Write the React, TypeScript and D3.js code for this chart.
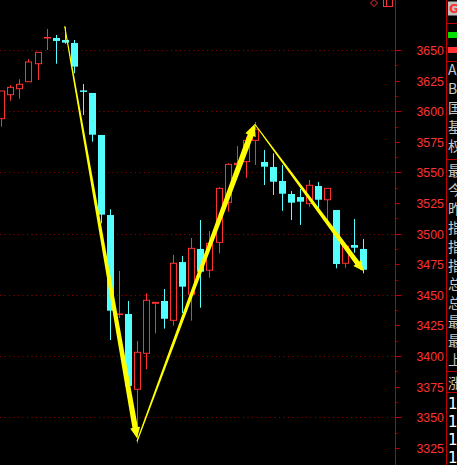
import React from 'react';
import * as d3 from 'd3';

const W = 457;
const H = 465;

// Daily candles (index level)
const opens = [
  3593.9, 3613.5, 3618.4, 3624.1, 3638.8, 3659.8, 3659.8, 3658.2, 3655.7, 3617.0,
  3614.9, 3580.6, 3515.2, 3433.8, 3434.4, 3372.9, 3402.3, 3442.3, 3445.0, 3429.2,
  3476.8, 3450.5, 3487.5, 3470.1, 3492.9, 3525.6, 3555.5, 3558.8, 3576.2, 3558.5,
  3554.4, 3543.0, 3532.4, 3529.9, 3524.5, 3538.9, 3527.7, 3519.3, 3475.8, 3490.7,
  3487.5,
];
const highs = [
  3616.5, 3621.2, 3626.1, 3642.4, 3648.1, 3667.2, 3662.3, 3668.8, 3658.2, 3622.2,
  3614.9, 3580.6, 3519.9, 3469.5, 3445.0, 3412.3, 3451.3, 3444.2, 3454.8, 3482.6,
  3481.7, 3496.4, 3511.1, 3502.2, 3537.8, 3557.4, 3571.6, 3579.0, 3591.2, 3568.3,
  3565.6, 3556.1, 3534.8, 3536.5, 3543.8, 3542.2, 3537.0, 3519.3, 3490.5, 3512.0,
  3495.6,
];
const lows = [
  3587.4, 3608.6, 3610.2, 3624.1, 3625.5, 3650.0, 3638.8, 3655.1, 3631.0, 3596.9,
  3575.1, 3508.4, 3413.1, 3431.1, 3374.0, 3328.8, 3389.2, 3418.6, 3422.4, 3424.8,
  3435.2, 3428.9, 3439.5, 3464.0, 3483.9, 3517.9, 3554.8, 3545.7, 3556.1, 3539.7,
  3531.6, 3518.7, 3511.1, 3507.1, 3522.0, 3517.9, 3510.6, 3471.7, 3472.2, 3484.4,
  3467.6,
];
const closes = [
  3616.5, 3619.5, 3622.0, 3640.2, 3648.1, 3660.2, 3657.4, 3656.0, 3636.4, 3616.2,
  3580.8, 3515.5, 3437.1, 3434.4, 3375.6, 3403.1, 3445.6, 3443.9, 3430.5, 3475.8,
  3456.7, 3488.0, 3468.9, 3492.1, 3537.0, 3556.6, 3557.5, 3576.2, 3585.2, 3554.7,
  3542.4, 3532.6, 3525.3, 3526.1, 3539.5, 3527.7, 3537.0, 3475.2, 3489.7, 3488.5,
  3470.5,
];

// Trend arrows: candle index + price at each end
const arrowFromIdx = [7, 15, 28];
const arrowFromPrice = [3669.5, 3330.5, 3589.6];
const arrowToIdx = [15, 28, 40];
const arrowToPrice = [3332.8, 3589.6, 3469.5];

const gridLevels = [3350, 3400, 3450, 3500, 3550, 3600, 3650];
const tickLabels = [3325, 3350, 3375, 3400, 3425, 3450, 3475, 3500, 3525, 3550, 3575, 3600, 3625, 3650];

// Side panel captions
const panelRows1 = ['A股成交', 'B股成交', '国债成交', '基金成交', '权证成交'];
const panelRows2 = ['最新指数', '今开指数', '昨收指数', '指数涨跌', '指数涨幅', '指数振幅', '总成交额', '总成交量', '最高指数', '最低指数', '上涨家数'];
const panelRows3 = ['涨跌家数'];
const panelRows4 = ['1', '1', '1', '1'];

const UP = '#ff3232';
const DOWN = '#54ffff';
const AXIS = '#c00000';
const GRID = '#a00000';
const ARROW = '#ffff00';

const x = d3.scaleLinear().domain([0, 40]).range([1.3, 363.3]);
const y = d3.scaleLinear().domain([3350, 3650]).range([417.3, 50]);

const AXIS_X = 395.5;
const PANEL_X = 446.5;

function arrowPath(x0: number, y0: number, x1: number, y1: number, w0: number, w1: number, headLen: number, headW: number) {
  const dx = x1 - x0;
  const dy = y1 - y0;
  const len = Math.hypot(dx, dy);
  const ux = dx / len;
  const uy = dy / len;
  const nx = -uy;
  const ny = ux;
  const bx = x1 - ux * headLen;
  const by = y1 - uy * headLen;
  const pts: [number, number][] = [
    [x0 + nx * w0 / 2, y0 + ny * w0 / 2],
    [bx + nx * w1 / 2, by + ny * w1 / 2],
    [bx + nx * headW / 2, by + ny * headW / 2],
    [x1, y1],
    [bx - nx * headW / 2, by - ny * headW / 2],
    [bx - nx * w1 / 2, by - ny * w1 / 2],
    [x0 - nx * w0 / 2, y0 - ny * w0 / 2],
  ];
  return d3.line()(pts) + 'Z';
}

const arrowStyle = [
  { w0: 1, w1: 5.5, head: 11, hw: 10 },
  { w0: 1.2, w1: 6, head: 12, hw: 11 },
  { w0: 1, w1: 5, head: 10, hw: 10 },
];

export default function App() {
  const bodyW = 7;
  const ticks = d3.range(3325, 3650.01, 12.5);

  return (
    <svg
      width={W}
      height={H}
      style={{ position: 'fixed', left: 0, top: 0, background: '#000', display: 'block' }}
    >
      <rect x={0} y={0} width={W} height={H} fill="#000" />

      {/* dotted grid */}
      {gridLevels.map((v) => (
        <line
          key={'g' + v}
          x1={0}
          x2={AXIS_X - 1}
          y1={Math.round(y(v)) + 0.5}
          y2={Math.round(y(v)) + 0.5}
          stroke={GRID}
          strokeWidth={1}
          strokeDasharray="1 3.5"
        />
      ))}

      {/* candles */}
      {opens.map((o, i) => {
        const c = closes[i];
        const up = c >= o;
        const cx = Math.round(x(i)) + 0.5;
        const top = y(Math.max(o, c));
        const bot = y(Math.min(o, c));
        const hy = y(highs[i]);
        const ly = y(lows[i]);
        const color = up ? UP : DOWN;
        const bh = Math.max(bot - top, 1);
        if (up) {
          return (
            <g key={'c' + i}>
              {hy < top && <line x1={cx} x2={cx} y1={hy} y2={top} stroke={color} strokeWidth={1} />}
              {ly > bot && <line x1={cx} x2={cx} y1={bot} y2={ly} stroke={color} strokeWidth={1} />}
              {bh < 2.5 ? (
                <rect x={cx - bodyW / 2} y={top - 0.5} width={bodyW} height={Math.max(bh, 1.5)} fill={color} />
              ) : (
                <rect x={cx - bodyW / 2 + 0.5} y={top} width={bodyW - 1} height={bh} fill="#000" stroke={color} strokeWidth={1} />
              )}
            </g>
          );
        }
        return (
          <g key={'c' + i}>
            <line x1={cx} x2={cx} y1={hy} y2={ly} stroke={color} strokeWidth={1} />
            <rect x={cx - bodyW / 2} y={top} width={bodyW} height={Math.max(bh, 1.5)} fill={color} />
          </g>
        );
      })}

      {/* trend arrows */}
      {arrowFromIdx.map((fi, k) => {
        const s = arrowStyle[k];
        return (
          <path
            key={'a' + k}
            d={arrowPath(x(fi), y(arrowFromPrice[k]), x(arrowToIdx[k]), y(arrowToPrice[k]), s.w0, s.w1, s.head, s.hw)}
            fill={ARROW}
          />
        );
      })}

      {/* price axis */}
      <line x1={AXIS_X} x2={AXIS_X} y1={0} y2={H} stroke={AXIS} strokeWidth={1} />
      {ticks.map((v) => {
        const major = v % 50 === 0;
        const mid = !major && v % 25 === 0;
        const len = major ? 6 : mid ? 4 : 2;
        const ty = Math.round(y(v)) + 0.5;
        return <line key={'t' + v} x1={AXIS_X} x2={AXIS_X + len} y1={ty} y2={ty} stroke={AXIS} strokeWidth={1} />;
      })}
      {tickLabels.map((v) => (
        <text
          key={'l' + v}
          x={416.5}
          y={y(v) + 5}
          fill={UP}
          fontFamily="'Liberation Sans', Arial, sans-serif"
          fontSize={12.3}
        >
          {v}
        </text>
      ))}

      {/* toolbar glyphs */}
      <path d="M374,-0.5 L377.5,3 L374,6.5 L370.5,3 Z" fill="none" stroke={UP} strokeWidth={1} />
      <rect x={383.5} y={-3.5} width={9} height={10} fill="none" stroke={UP} strokeWidth={1} />
      <line x1={386.5} x2={386.5} y1={-3} y2={6.5} stroke={UP} strokeWidth={1} />

      {/* side panel */}
      <line x1={PANEL_X} x2={PANEL_X} y1={0} y2={H} stroke={AXIS} strokeWidth={1} />
      {[23.5, 61.5, 159.5, 371.5, 392.5].map((sy) => (
        <line key={'s' + sy} x1={PANEL_X} x2={W} y1={sy} y2={sy} stroke={AXIS} strokeWidth={1} />
      ))}
      <rect x={448} y={1.5} width={10} height={14} fill="#c0c0c0" />
      <text x={449} y={13} fill={UP} fontFamily="'DejaVu Sans', sans-serif" fontSize={12} fontWeight="bold">G</text>
      <rect x={448} y={32} width={10} height={6} fill="#00e000" />
      <rect x={448} y={47} width={10} height={6} fill={UP} />
      {panelRows1.map((t, i) => (
        <text key={'p1' + i} x={448} y={70 + i * 19 + 5} fill="#c8c8c8" fontFamily="'Noto Sans CJK SC', sans-serif" fontSize={14}>{t}</text>
      ))}
      {panelRows2.map((t, i) => (
        <text key={'p2' + i} x={448} y={171 + i * 18.9 + 5} fill="#c8c8c8" fontFamily="'Noto Sans CJK SC', sans-serif" fontSize={14}>{t}</text>
      ))}
      {panelRows3.map((t, i) => (
        <text key={'p3' + i} x={448} y={383 + 5} fill="#c8c8c8" fontFamily="'Noto Sans CJK SC', sans-serif" fontSize={14}>{t}</text>
      ))}
      {panelRows4.map((t, i) => (
        <text key={'p4' + i} x={448} y={403 + i * 18 + 6} fill="#ffffff" fontFamily="'DejaVu Sans', sans-serif" fontSize={15}>{t}</text>
      ))}
    </svg>
  );
}
